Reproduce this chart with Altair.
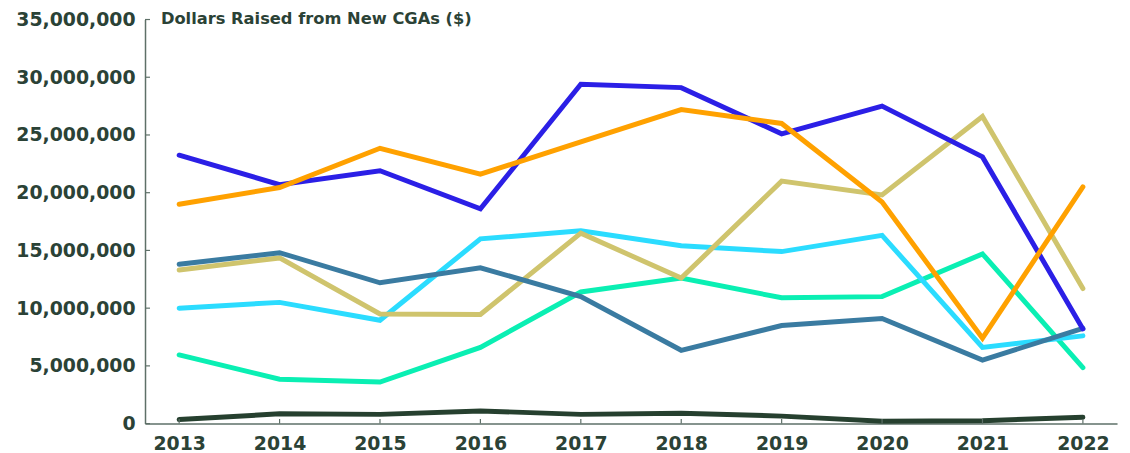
import altair as alt
import pandas as pd

years = [2013, 2014, 2015, 2016, 2017, 2018, 2019, 2020, 2021, 2022]

dark = [0.35, 0.85, 0.8, 1.1, 0.8, 0.9, 0.65, 0.2, 0.25, 0.55]
green = [5.95, 3.85, 3.6, 6.6, 11.4, 12.6, 10.9, 11.0, 14.7, 4.85]
cyan = [10.0, 10.5, 8.95, 16.0, 16.7, 15.4, 14.9, 16.3, 6.6, 7.6]
khaki = [13.3, 14.35, 9.5, 9.45, 16.5, 12.6, 21.0, 19.8, 26.6, 11.7]
steel = [13.8, 14.8, 12.2, 13.5, 11.0, 6.35, 8.5, 9.1, 5.5, 8.25]
blue = [23.25, 20.7, 21.9, 18.6, 29.4, 29.1, 25.1, 27.5, 23.1, 8.2]
orange = [19.0, 20.45, 23.85, 21.6, 24.4, 27.2, 26.0, 19.2, 7.4, 20.5]

series_names = ["dark", "green", "cyan", "khaki", "steel", "blue", "orange"]
series_values = [dark, green, cyan, khaki, steel, blue, orange]
series_colors = ["#26402f", "#0aefb3", "#2bdcff", "#cfc46d", "#3a7ba1", "#2b1fe6", "#ffa100"]

y_ticks = [0, 5000000, 10000000, 15000000, 20000000, 25000000, 30000000, 35000000]
title_text = "Dollars Raised from New CGAs ($)"

rows = []
for name, vals in zip(series_names, series_values):
    for yr, v in zip(years, vals):
        rows.append({"year": str(yr), "series": name, "value": v * 1_000_000})
df = pd.DataFrame(rows)

text_color = "#2b4236"
axis_color = "#5e7068"

x_enc = alt.X("year:O", scale=alt.Scale(type="point", padding=0.34),
              axis=alt.Axis(title=None, labelAngle=0, ticks=False, labelPadding=11,
                            labelFont="DejaVu Sans", labelFontWeight="bold", labelFontSize=19,
                            labelColor=text_color, domainColor=axis_color, domainWidth=1.5))
y_scale = alt.Scale(domain=[0, 35000000], nice=False)

lines = alt.Chart(df).mark_line(strokeWidth=5, strokeCap="round").encode(
    x=x_enc,
    y=alt.Y("value:Q", scale=y_scale,
            axis=alt.Axis(title=None, values=y_ticks, format=",d", ticks=False, grid=False,
                          labelPadding=10, labelFont="DejaVu Sans", labelFontWeight="bold",
                          labelFontSize=19, labelColor=text_color,
                          domainColor=axis_color, domainWidth=1.5)),
    color=alt.Color("series:N", scale=alt.Scale(domain=series_names, range=series_colors), legend=None),
)

xt = pd.DataFrame({"year": [str(y) for y in years], "lo": [0] * len(years), "hi": [400000] * len(years)})
x_ticks = alt.Chart(xt).mark_rule(color=axis_color, strokeWidth=1.2).encode(
    x=alt.X("year:O"), y=alt.Y("lo:Q"), y2="hi:Q")

yt = pd.DataFrame({"v": y_ticks})
y_tick_marks = alt.Chart(yt).mark_rule(color=axis_color, strokeWidth=1.2).encode(
    y=alt.Y("v:Q"), x=alt.value(0), x2=alt.value(5))

title = alt.Chart(pd.DataFrame({"t": [title_text]})).mark_text(
    align="left", baseline="middle", font="DejaVu Sans", fontWeight="bold",
    fontSize=16.4, color=text_color).encode(
    x=alt.value(16), y=alt.value(0), text="t:N")

chart = alt.layer(lines, x_ticks, y_tick_marks, title).properties(
    width=979, height=407,
    autosize=alt.AutoSizeParams(type="none"),
    padding={"left": 138, "top": 10, "right": 5, "bottom": 28},
).configure_view(stroke=None)

chart.save("out.html", embed_options={"renderer": "svg", "actions": False})
